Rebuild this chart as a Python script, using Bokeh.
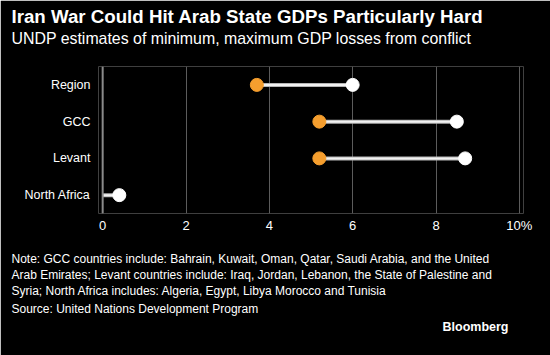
from bokeh.plotting import figure
from bokeh.models import Range1d, FactorRange, Span, FixedTicker, ColumnDataSource, Title
from bokeh.embed import file_html
from bokeh.resources import INLINE

regions = ["Region", "GCC", "Levant", "North Africa"]
min_loss = [3.7, 5.2, 5.2, 0.0]
max_loss = [6.0, 8.5, 8.7, 0.4]
x_ticks = [0, 2, 4, 6, 8, 10]
x_tick_labels = ["0", "2", "4", "6", "8", "10%"]

title = "Iran War Could Hit Arab State GDPs Particularly Hard"
subtitle = "UNDP estimates of minimum, maximum GDP losses from conflict"
notes = [
    "Note: GCC countries include: Bahrain, Kuwait, Oman, Qatar, Saudi Arabia, and the United",
    "Arab Emirates; Levant countries include: Iraq, Jordan, Lebanon, the State of Palestine and",
    "Syria; North Africa includes: Algeria, Egypt, Libya Morocco and Tunisia",
    "Source: United Nations Development Program",
]
credit = "Bloomberg"

FONT = "Liberation Sans"
BG = "#000000"
ORANGE = "#F59E2E"
W, H = 550, 355
FL, FR, FT, FB = 98, 523, 66, 213

p = figure(width=W, height=H, output_backend="svg", toolbar_location=None,
           x_range=Range1d(-0.1, 10.1), y_range=FactorRange(*reversed(regions)),
           min_border_left=FL, min_border_right=W - FR, min_border_top=FT,
           min_border_bottom=H - FB)
p.background_fill_color = BG
p.border_fill_color = BG
p.outline_line_color = None

p.ygrid.grid_line_color = None
p.xgrid.grid_line_color = "#5c5c5c"
p.xgrid.grid_line_width = 1
p.xaxis.ticker = FixedTicker(ticks=x_ticks)
p.xaxis.major_label_overrides = {t: l for t, l in zip(x_ticks, x_tick_labels)}

for ax in (p.xaxis, p.yaxis):
    ax.axis_line_color = None
    ax.major_tick_line_color = None
    ax.minor_tick_line_color = None
    ax.major_tick_out = 0
    ax.minor_tick_out = 0
    ax.major_label_text_color = "#ffffff"
    ax.major_label_text_font = FONT
    ax.major_label_text_font_size = "12.5px"
p.xaxis.major_label_text_font_size = "13px"
p.xaxis.major_label_standoff = 4
p.yaxis.major_label_standoff = 8

p.add_layout(Span(location=0, dimension="height", line_color="#8a8a8a", line_width=2))

src = ColumnDataSource(dict(region=regions, lo=min_loss, hi=max_loss))
p.segment(x0="lo", y0="region", x1="hi", y1="region", source=src,
          line_color="#b5b5b5", line_width=4)
p.segment(x0="lo", y0="region", x1="hi", y1="region", source=src,
          line_color="#f2f2f2", line_width=2)

lo_r = [r for r, v in zip(regions, min_loss) if v > 0]
lo_v = [v for v in min_loss if v > 0]
p.scatter(x=lo_v, y=lo_r, size=13, fill_color=ORANGE, line_color=ORANGE)
p.scatter(x=max_loss, y=regions, size=13, fill_color="#ffffff", line_color="#ffffff")


def ttl(text, side, size, bold=False, align="left", standoff=0, line_height=1.0):
    off = -(FL - 11) if align == "left" else (FR - 508)
    p.add_layout(Title(text=text, align=align, offset=off, standoff=standoff,
                       text_color="#ffffff", text_font=FONT, text_font_size=size,
                       text_font_style="bold" if bold else "normal",
                       text_line_height=line_height), side)


# above: first added sits nearest the frame (trailing line break leaves room below it)
ttl(subtitle + "\n", "above", "15.9px", standoff=0, line_height=1.12)
ttl(title, "above", "18.7px", bold=True, standoff=4)
# below: stacked downward after the x axis (leading line break leaves room above it)
ttl("\n" + notes[0], "below", "12px", standoff=0, line_height=1.0)
ttl(notes[1], "below", "12px", standoff=0)
ttl(notes[2], "below", "12px", standoff=0)
ttl(notes[3], "below", "12px", standoff=4)
ttl(credit, "below", "12.5px", bold=True, align="right", standoff=0)

open("out.html", "w").write(file_html(p, INLINE))
